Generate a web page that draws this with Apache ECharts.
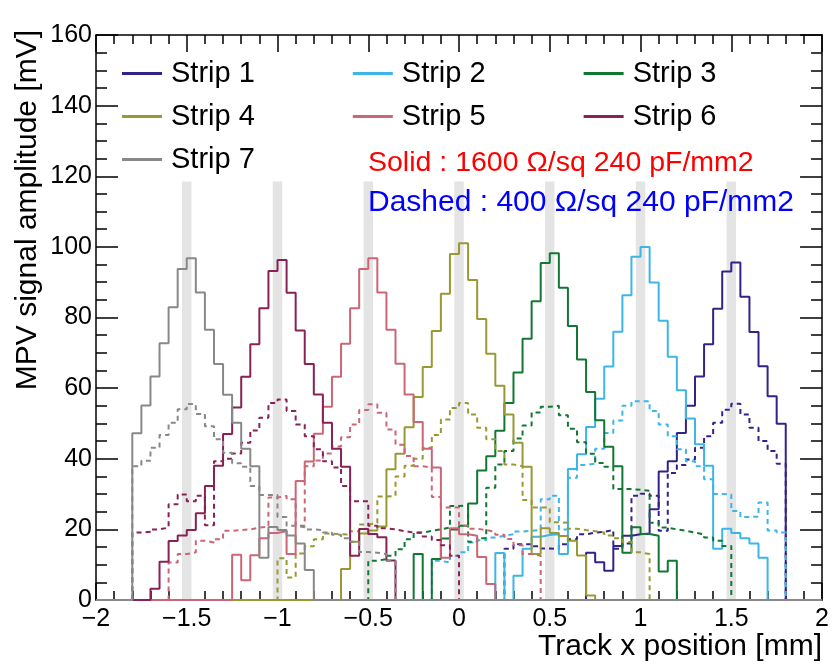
<!DOCTYPE html>
<html>
<head>
<meta charset="utf-8">
<script src="https://cdn.jsdelivr.net/npm/echarts@6/dist/echarts.min.js"></script>
<style>
  html, body { margin: 0; padding: 0; background: #ffffff; }
  #chart { width: 832px; height: 667px; }
</style>
</head>
<body>
<div id="chart"></div>
<script>
// Histogram binning (mm)
const BIN = 0.05;
const X_MIN = -2;
const X_MAX = 2;

const stripNames = ['Strip 1', 'Strip 2', 'Strip 3', 'Strip 4', 'Strip 5', 'Strip 6', 'Strip 7'];
const stripColors = ['#332288', '#3db5e6', '#117733', '#999933', '#cc6677', '#882255', '#888888'];

// Strip centre positions (grey reference bands)
const stripCenters = [-1.5, -1, -0.5, 0, 0.5, 1, 1.5];
const bandTop = 118.5;

// Solid: 1600 Ohm/sq — first bin low edge and bin contents [mV]
const solidStart = [0.7, 0.2, -0.25, -0.65, -1.25, -1.7, -1.8];
const solid1 = [13.4, 10.7, 8.3, 15.3, 18.2, 18.6, 18.8, 25.7, 36.4, 39.3, 47.3, 55.0, 63.3, 72.4, 82.5, 93.0, 95.6, 85.9, 75.9, 66.2, 57.7, 49.9];
const solid2 = [13.3, 0, 6.9, 14.5, 17.9, 18.4, 18.6, 13.0, 37.1, 41.3, 49.0, 57.0, 66.1, 76.0, 86.3, 97.2, 100.0, 89.9, 79.1, 68.9, 59.4, 51.4, 44.1, 38.0, 14.5, 20.2, 19.0, 17.5, 16.0, 12.0];
const solid3 = [13.0, 0, 11.6, 17.4, 20.0, 21.0, 27.3, 36.7, 40.7, 47.9, 55.8, 64.4, 74.0, 84.6, 95.4, 98.2, 88.4, 77.6, 68.1, 58.9, 50.9, 43.4, 37.9, 13.4, 20.6, 18.7, 18.2, 8.1, 11.1];
const solid4 = [8.8, 16.5, 18.8, 19.7, 20.8, 37.0, 41.4, 48.9, 57.5, 66.0, 76.2, 86.7, 98.0, 101.0, 90.6, 79.6, 69.7, 60.7, 52.5, 44.5, 37.7, 13.0, 20.3, 19.0, 18.1, 16.8, 12.6, 1.3];
const solid5 = [12.8, 5.6, 12.7, 17.5, 19.0, 19.5, 13.0, 33.7, 39.2, 47.1, 54.7, 63.2, 72.6, 82.6, 93.7, 96.8, 87.1, 76.5, 66.9, 58.2, 50.4, 42.8, 37.5, 12.0, 20.3, 18.6, 18.2, 12.2, 4.5];
const solid6 = [3.2, 10.8, 16.7, 18.3, 19.8, 24.6, 32.3, 38.0, 47.0, 54.5, 63.2, 72.4, 82.6, 93.2, 96.3, 87.0, 76.3, 66.8, 58.2, 50.2, 42.8, 37.7, 12.5, 20.1, 18.7, 17.8, 11.2];
const solid7 = [47.2, 55.1, 63.3, 72.7, 82.9, 93.7, 96.8, 87.1, 76.5, 66.8, 58.1, 50.2, 42.8, 37.9, 12.0, 20.7, 19.8, 18.3, 16.0, 8.5];

// Dashed: 400 Ohm/sq — first bin low edge and bin contents [mV]
const dashedStart = [0.25, -0.15, -0.5, -1.0, -1.6, -1.8, -1.8];
const dashed1 = [14.5, 15.8, 15.8, 15.2, 14.6, 14.4, 15.8, 17.2, 18.6, 19.1, 19.3, 19.8, 14.5, 16.0, 29.5, 30.1, 29.5, 19.6, 36.0, 38.2, 39.8, 43.1, 46.4, 50.2, 53.9, 55.6, 52.5, 48.8, 45.0, 42.2, 38.6];
const dashed2 = [11.1, 10.6, 12.5, 13.5, 16.3, 16.9, 17.7, 18.2, 18.6, 19.4, 19.6, 19.8, 28.5, 29.5, 20.0, 34.6, 38.2, 38.6, 42.8, 47.3, 50.8, 55.0, 56.3, 56.3, 53.5, 49.7, 46.4, 42.7, 39.3, 37.9, 34.2, 30.0, 29.9, 25.2, 23.5, 23.6, 27.6, 19.7, 19.1];
const dashed3 = [11.1, 11.6, 12.5, 14.4, 17.2, 19.1, 19.6, 20.0, 20.5, 26.6, 26.8, 16.5, 17.5, 31.8, 38.4, 42.2, 45.7, 49.4, 53.1, 54.7, 55.0, 52.3, 48.5, 44.7, 41.4, 38.8, 37.7, 31.4, 31.4, 31.2, 30.9, 21.9, 20.5, 20.0, 19.6, 19.1, 18.6, 17.7, 16.8, 15.3];
const dashed4 = [11.8, 6.4, 13.2, 15.2, 17.2, 18.8, 18.6, 18.5, 19.5, 21.4, 21.8, 29.3, 29.5, 35.0, 38.0, 40.0, 43.1, 46.7, 51.1, 54.4, 55.8, 52.5, 48.8, 45.5, 42.2, 38.4, 37.9, 28.3, 26.2, 26.2, 22.0, 21.9, 20.2, 19.8, 19.5, 19.1, 18.3, 17.5, 16.4, 13.5, 13.0];
const dashed5 = [10.6, 13.0, 13.5, 16.8, 16.3, 17.2, 19.6, 19.8, 20.0, 20.5, 20.8, 29.0, 29.5, 28.5, 21.0, 37.9, 39.5, 41.5, 43.5, 46.1, 49.7, 53.8, 55.4, 53.0, 48.3, 44.0, 40.8, 37.9, 37.5, 29.2, 26.2, 26.2, 21.0, 20.2, 19.8, 19.3, 18.5, 17.3, 15.5, 13.0, 12.5];
const dashed6 = [19.1, 19.3, 20.0, 20.5, 27.1, 29.9, 28.0, 29.5, 21.2, 39.3, 40.0, 41.5, 44.5, 48.0, 51.6, 55.8, 56.8, 53.5, 49.7, 46.4, 42.7, 39.3, 37.5, 32.3, 28.0, 28.0, 21.0, 20.3, 20.0, 19.5, 19.1, 19.0, 18.0, 17.0, 15.5, 12.5];
const dashed7 = [37.9, 39.4, 43.1, 46.7, 50.2, 54.0, 55.5, 52.7, 49.2, 45.5, 41.7, 38.7, 37.7, 32.3, 29.7, 29.7, 23.5, 21.0, 20.6, 20.0, 19.8, 19.1, 18.5, 17.5, 16.5, 13.6, 13.4, 13.0, 11.1];

const solidValues = [solid1, solid2, solid3, solid4, solid5, solid6, solid7];
const dashedValues = [dashed1, dashed2, dashed3, dashed4, dashed5, dashed6, dashed7];

const FONT = '"Liberation Sans", Arial, Helvetica, sans-serif';

// Expand a histogram into step vertices covering the full axis range
function histSteps(start, values) {
  const nBins = Math.round((X_MAX - X_MIN) / BIN);
  const offset = Math.round((start - X_MIN) / BIN);
  const pts = [];
  for (let i = 0; i < nBins; i++) {
    const k = i - offset;
    const v = (k >= 0 && k < values.length) ? values[k] : 0;
    const lo = +(X_MIN + i * BIN).toFixed(3);
    const hi = +(X_MIN + (i + 1) * BIN).toFixed(3);
    pts.push([lo, v], [hi, v]);
  }
  return pts;
}

function histSeries(name, color, steps, dashed, z) {
  return {
    name: name,
    type: 'line',
    data: steps,
    showSymbol: false,
    symbol: 'none',
    clip: false,
    animation: false,
    z: z,
    color: color,
    lineStyle: { color: color, width: 2, type: dashed ? [5, 4] : 'solid' }
  };
}

const series = [];

// Reference bands at the strip centres
series.push({
  name: 'bands',
  type: 'line',
  data: [],
  z: 1,
  silent: true,
  animation: false,
  markArea: {
    silent: true,
    itemStyle: { color: '#e4e4e4' },
    data: stripCenters.map(c => [
      { xAxis: c - 0.026, yAxis: 0 },
      { xAxis: c + 0.026, yAxis: bandTop }
    ])
  }
});

for (let i = 0; i < 7; i++) {
  series.push(histSeries(stripNames[i], stripColors[i], histSteps(solidStart[i], solidValues[i]), false, 3 + i));
}
for (let i = 0; i < 7; i++) {
  series.push(histSeries(stripNames[i], stripColors[i], histSteps(dashedStart[i], dashedValues[i]), true, 3 + i));
}

const minus = v => String(v).replace('-', '\u2212');

const legendBase = {
  left: 117,
  orient: 'horizontal',
  icon: 'rect',
  itemWidth: 40,
  itemHeight: 3,
  itemGap: 98,
  selectedMode: false,
  textStyle: { fontSize: 29, color: '#000', fontFamily: FONT, padding: [0, 0, 0, 4] }
};

const option = {
  backgroundColor: '#ffffff',
  animation: false,
  grid: { left: 96, right: 9, top: 35, bottom: 67, containLabel: false },
  legend: [
    Object.assign({}, legendBase, { top: 54, data: stripNames.slice(0, 3) }),
    Object.assign({}, legendBase, { top: 97, data: stripNames.slice(3, 6) }),
    Object.assign({}, legendBase, { top: 140, data: stripNames.slice(6, 7) })
  ],
  xAxis: [
    {
      type: 'value', min: X_MIN, max: X_MAX, interval: 0.5, position: 'bottom',
      axisLine: { onZero: false, lineStyle: { color: '#000', width: 1.5 } },
      axisTick: { inside: true, length: 17, lineStyle: { color: '#000', width: 1.5 } },
      minorTick: { show: true, splitNumber: 5, length: 9, lineStyle: { color: '#000', width: 1.5 } },
      splitLine: { show: false },
      axisLabel: { fontSize: 25, color: '#000', fontFamily: FONT, margin: 7, formatter: minus }
    },
    {
      type: 'value', min: X_MIN, max: X_MAX, interval: 0.5, position: 'top',
      axisLine: { onZero: false, lineStyle: { color: '#000', width: 1.5 } },
      axisTick: { inside: true, length: 17, lineStyle: { color: '#000', width: 1.5 } },
      minorTick: { show: true, splitNumber: 5, length: 9, lineStyle: { color: '#000', width: 1.5 } },
      splitLine: { show: false },
      axisLabel: { show: false }
    }
  ],
  yAxis: [
    {
      type: 'value', min: 0, max: 160, interval: 20, position: 'left',
      axisLine: { onZero: false, lineStyle: { color: '#000', width: 1.5 } },
      axisTick: { inside: true, length: 22, lineStyle: { color: '#000', width: 1.5 } },
      minorTick: { show: true, splitNumber: 4, length: 11, lineStyle: { color: '#000', width: 1.5 } },
      splitLine: { show: false },
      axisLabel: { fontSize: 25, color: '#000', fontFamily: FONT, margin: 4 }
    },
    {
      type: 'value', min: 0, max: 160, interval: 20, position: 'right',
      axisLine: { onZero: false, lineStyle: { color: '#000', width: 1.5 } },
      axisTick: { inside: true, length: 22, lineStyle: { color: '#000', width: 1.5 } },
      minorTick: { show: true, splitNumber: 4, length: 11, lineStyle: { color: '#000', width: 1.5 } },
      splitLine: { show: false },
      axisLabel: { show: false }
    }
  ],
  graphic: [
    {
      type: 'text', x: 368, y: 163, z: 50,
      style: { text: 'Solid : 1600 \u03A9/sq 240 pF/mm2', fill: '#ff0000', font: '28.5px ' + FONT, textAlign: 'left', textVerticalAlign: 'middle' }
    },
    {
      type: 'text', x: 368, y: 203, z: 50,
      style: { text: 'Dashed : 400 \u03A9/sq 240 pF/mm2', fill: '#0000ff', font: '30px ' + FONT, textAlign: 'left', textVerticalAlign: 'middle' }
    },
    {
      type: 'text', x: 822, y: 647, z: 50,
      style: { text: 'Track x position [mm]', fill: '#000', font: '30px ' + FONT, textAlign: 'right', textVerticalAlign: 'middle' }
    },
    {
      type: 'text', x: 28, y: 30, rotation: Math.PI / 2, z: 50,
      style: { text: 'MPV signal amplitude [mV]', fill: '#000', font: '30px ' + FONT, textAlign: 'right', textVerticalAlign: 'middle' }
    }
  ],
  series: series
};

const chart = echarts.init(document.getElementById('chart'), null, { renderer: 'canvas' });
chart.setOption(option);
</script>
</body>
</html>
